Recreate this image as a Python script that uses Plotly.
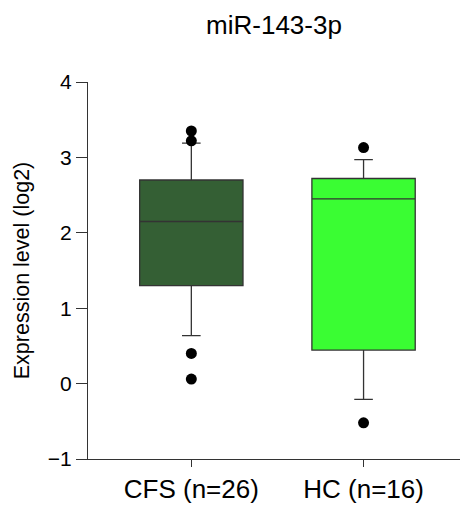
import plotly.graph_objects as go

# Group labels and box statistics (log2 expression)
groups = ["CFS (n=26)", "HC (n=16)"]
q1 = [1.30, 0.445]
median = [2.15, 2.45]
q3 = [2.70, 2.72]
lower_whisker = [0.635, -0.21]
upper_whisker = [3.19, 2.97]
fill_colors = ["#345f34", "#3afd33"]

# Points beyond the whiskers
outlier_groups = ["CFS (n=26)", "CFS (n=26)", "CFS (n=26)", "CFS (n=26)",
                  "HC (n=16)", "HC (n=16)"]
outlier_values = [3.35, 3.22, 0.40, 0.06, 3.13, -0.52]

y_ticks = [-1, 0, 1, 2, 3, 4]

FONT = "Arial, 'Liberation Sans', sans-serif"

fig = go.Figure()

for i, g in enumerate(groups):
    fig.add_trace(go.Box(
        x=[g],
        q1=[q1[i]],
        median=[median[i]],
        q3=[q3[i]],
        lowerfence=[lower_whisker[i]],
        upperfence=[upper_whisker[i]],
        boxpoints=False,
        width=0.6,
        whiskerwidth=0.18,
        fillcolor=fill_colors[i],
        line=dict(color="#333333", width=1.3),
        showlegend=False,
        hoverinfo="skip",
    ))

fig.add_trace(go.Scatter(
    x=outlier_groups,
    y=outlier_values,
    mode="markers",
    marker=dict(color="black", size=11),
    showlegend=False,
    hoverinfo="skip",
))

fig.update_layout(
    width=463,
    height=508,
    margin=dict(l=88, r=3, t=82, b=49),
    paper_bgcolor="white",
    plot_bgcolor="white",
    font=dict(family=FONT, color="black"),
    title=dict(
        text="miR-143-3p",
        font=dict(family=FONT, size=26, color="black"),
        x=0.5, xref="paper", xanchor="center",
        y=1 - 25 / 508, yref="container", yanchor="middle",
    ),
    xaxis=dict(
        type="category",
        range=[-0.6, 1.56],
        showline=True,
        linecolor="#333333",
        linewidth=1.3,
        ticks="outside",
        ticklen=7,
        tickcolor="#333333",
        tickwidth=1.3,
        tickfont=dict(family=FONT, size=26, color="black"),
        showgrid=False,
        zeroline=False,
        fixedrange=True,
    ),
    yaxis=dict(
        range=[-1, 4],
        tickvals=y_ticks,
        showline=True,
        linecolor="#333333",
        linewidth=1.3,
        ticks="outside",
        ticklen=11,
        tickcolor="#333333",
        tickwidth=1.3,
        tickfont=dict(family=FONT, size=21, color="black"),
        showgrid=False,
        zeroline=False,
        title=dict(text="Expression level (log2)",
                   font=dict(family=FONT, size=21.5, color="black"),
                   standoff=12),
        fixedrange=True,
    ),
)

fig.write_html("out.html")
